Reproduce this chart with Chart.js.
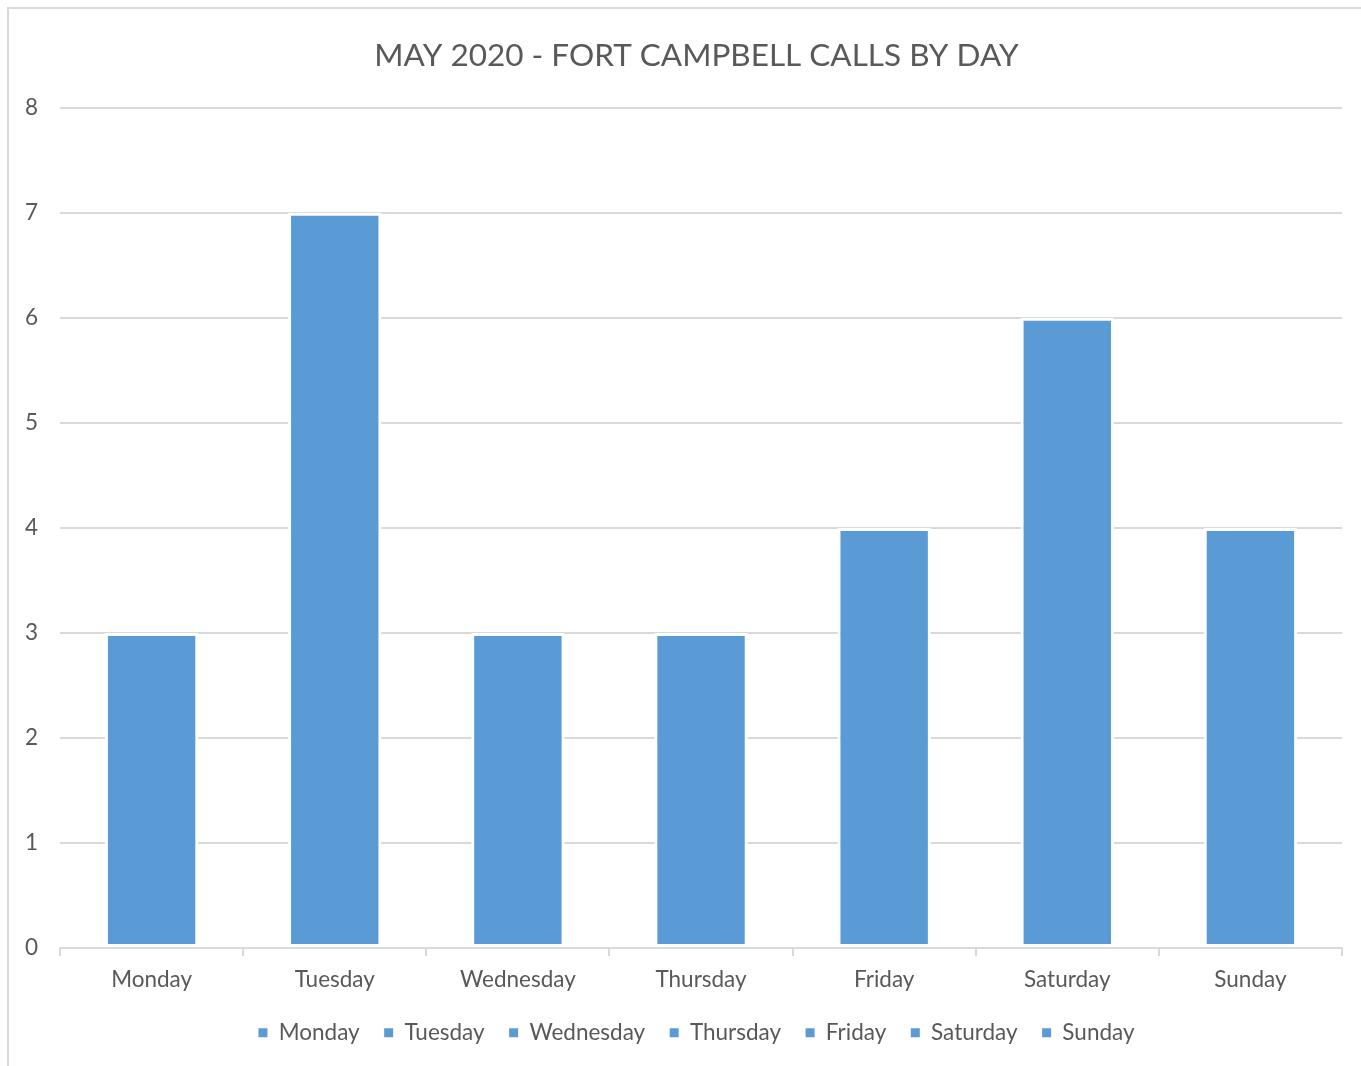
<!DOCTYPE html>
<html>
<head>
<meta charset="utf-8">
<script src="https://cdn.jsdelivr.net/npm/chart.js@4"></script>
<style>
  body { margin: 0; overflow: hidden; background: #fff; }
  #frame {
    position: absolute; left: 7px; top: 7px;
    width: 1400px; height: 1100px;
    border: 2px solid #d9d9d9;
  }
  #callsChart { position: absolute; left: 0; top: 0; }
</style>
</head>
<body>
<div id="frame"></div>
<!-- canvas runs past the window edge so title and legend centre on the frame -->
<canvas id="callsChart" width="1409" height="1066"></canvas>
<script>
const days = ["Monday", "Tuesday", "Wednesday", "Thursday", "Friday", "Saturday", "Sunday"];
const calls = [3, 7, 3, 3, 4, 6, 4];
const yTicks = [0, 1, 2, 3, 4, 5, 6, 7, 8];

const barColor = "#5b9bd5";
const textColor = "#595959";
const gridColor = "#d9d9d9";
const fontFamily = "Lato, 'Open Sans', sans-serif";

Chart.defaults.font.family = fontFamily;
Chart.defaults.color = textColor;

new Chart(document.getElementById("callsChart"), {
  type: "bar",
  data: {
    labels: days,
    datasets: [{
      label: "Calls",
      data: calls,
      backgroundColor: barColor,
      borderColor: "#ffffff",
      borderWidth: 3,
      borderSkipped: false,
      categoryPercentage: 1,
      barPercentage: 0.51
    }]
  },
  options: {
    responsive: false,
    animation: false,
    layout: { padding: { left: 3, right: 19, top: 0, bottom: 12 } },
    plugins: {
      title: {
        display: true,
        text: "MAY 2020 - FORT CAMPBELL CALLS BY DAY",
        font: { size: 31.5, weight: "normal" },
        color: textColor,
        padding: { top: 37, bottom: 33 }
      },
      legend: {
        position: "bottom",
        labels: {
          boxWidth: 9,
          boxHeight: 9,
          padding: 24.5,
          font: { size: 22.5 },
          color: textColor,
          // one entry per day, all in the bar colour
          generateLabels: chart => days.map((d, i) => ({
            text: d,
            fillStyle: barColor,
            strokeStyle: barColor,
            fontColor: textColor,
            lineWidth: 0,
            hidden: false,
            index: i
          }))
        },
        onClick: () => {}
      },
      tooltip: { enabled: false }
    },
    scales: {
      x: {
        grid: {
          offset: true,
          drawOnChartArea: false,
          drawTicks: true,
          tickLength: 8,
          color: gridColor,
          lineWidth: 2
        },
        border: { display: true, color: gridColor, width: 2 },
        ticks: { font: { size: 22.5 }, color: textColor, padding: 10 },
        afterFit: scale => { scale.height -= 6; }
      },
      y: {
        min: 0,
        max: 8,
        afterBuildTicks: axis => { axis.ticks = yTicks.map(v => ({ value: v })); },
        grid: { color: gridColor, lineWidth: 2, drawTicks: false },
        border: { display: false },
        ticks: { font: { size: 22.5 }, color: textColor, padding: 22 }
      },
      // empty spacer on the right, sits off-screen past the window edge
      spacer: {
        type: "linear",
        position: "right",
        min: 0,
        max: 8,
        grid: { display: false },
        border: { display: false },
        ticks: { display: false },
        afterFit: scale => { scale.width = 48; }
      }
    }
  }
});
</script>
</body>
</html>
